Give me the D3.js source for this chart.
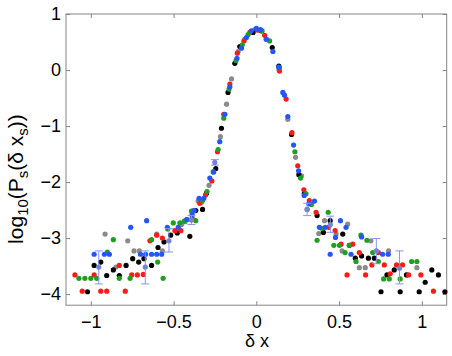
<!DOCTYPE html>
<html>
<head>
<meta charset="utf-8">
<script src="https://cdn.jsdelivr.net/npm/d3@7"></script>
<style>
  body { margin: 0; background: #fff; }
  text { font-family: "Liberation Sans", Arial, Helvetica, sans-serif; }
</style>
</head>
<body>
<div id="chart"></div>
<script>

// ---- data: [delta x, log10 P] ----
var blackPts = [
  [-1.02,-3.96],[-0.98,-3.49],[-0.94,-3.43],[-0.904,-3.67],[-0.864,-3.57],[-0.828,-3.67],
  [-0.787,-3.49],[-0.747,-3.37],[-0.711,-3.43],[-0.679,-3.37],[-0.633,-3.49],[-0.594,-3.17],
  [-0.558,-3.07],[-0.518,-2.95],[-0.478,-2.91],[-0.402,-2.97],[-0.366,-2.51],[-0.325,-2.49],
  [-0.301,-2.2],[-0.245,-1.76],[-0.211,-1.04],[-0.171,-0.40],[-0.13,0.12],[-0.10,0.42],
  [-0.02,0.67],[0.03,0.70],[0.096,0.40],[0.136,0.07],[0.213,-1.15],[0.257,-1.87],
  [0.29,-2.20],[0.367,-2.60],[0.405,-2.90],[0.446,-2.69],[0.522,-2.93],[0.562,-3.13],
  [0.598,-3.36],[0.636,-3.32],[0.677,-3.36],[0.713,-3.36],[0.753,-3.96],[0.789,-3.66],
  [0.833,-3.57],[0.869,-3.96],[0.907,-3.66],[0.984,-3.96],[1.02,-3.79],[1.06,-3.57],
  [1.10,-3.66],[1.139,-3.96]
];
var redPts = [
  [-1.096,-3.66],[-1.052,-3.95],[-0.98,-3.66],[-0.94,-3.95],[-0.904,-3.95],[-0.828,-3.49],
  [-0.792,-3.95],[-0.753,-3.66],[-0.719,-3.66],[-0.683,-3.65],[-0.643,-3.05],[-0.602,-2.95],
  [-0.568,-3.0],[-0.492,-2.87],[-0.456,-2.87],[-0.42,-2.67],[-0.388,-2.64],[-0.384,-2.52],
  [-0.342,-2.38],[-0.307,-2.23],[-0.269,-1.98],[-0.235,-1.46],[-0.197,-0.79],[-0.16,-0.25],
  [-0.115,0.30],[-0.075,0.52],[-0.04,0.67],[0.01,0.71],[0.05,0.62],[0.14,-0.02],
  [0.18,-0.52],[0.215,-1.12],[0.25,-1.71],[0.287,-2.14],[0.32,-2.33],[0.361,-2.54],
  [0.437,-2.81],[0.476,-2.87],[0.512,-3.11],[0.548,-3.66],[0.582,-3.11],[0.622,-3.26],
  [0.66,-3.66],[0.698,-3.48],[0.737,-3.26],[0.773,-3.48],[0.809,-3.64],[0.847,-3.48],
  [0.883,-3.48],[0.92,-3.66],[0.994,-3.66],[1.07,-3.95]
];
var greenPts = [
  [-1.072,-3.72],[-1.036,-3.72],[-1.0,-3.72],[-0.964,-3.72],[-0.9,-3.25],[-0.864,-3.03],
  [-0.828,-3.72],[-0.763,-3.72],[-0.633,-3.03],[-0.596,-3.43],[-0.563,-3.72],[-0.535,-2.84],
  [-0.502,-2.73],[-0.462,-2.73],[-0.436,-2.70],[-0.392,-2.52],[-0.366,-2.69],[-0.325,-2.33],
  [-0.298,-2.17],[-0.261,-1.82],[-0.231,-1.42],[-0.197,-0.86],[-0.165,-0.34],[-0.123,0.17],
  [-0.085,0.45],[-0.05,0.63],[0.035,0.70],[0.08,0.52],[0.14,0.04],[0.233,-1.46],
  [0.267,-1.93],[0.30,-2.21],[0.333,-2.40],[0.367,-3.04],[0.397,-2.83],[0.434,-2.54],
  [0.468,-3.13],[0.502,-3.13],[0.536,-3.26],[0.562,-3.13],[0.602,-3.42],[0.632,-2.95],
  [0.668,-3.04],[0.703,-3.26],[0.737,-3.42],[0.769,-3.73],[0.803,-3.73],[0.869,-3.73],
  [0.938,-3.42],[0.97,-3.42]
];
var grayPts = [
  [-0.914,-2.93],[-0.848,-3.52],[-0.777,-3.05],[-0.739,-3.23],[-0.707,-3.23],[-0.602,-2.93],
  [-0.568,-3.23],[-0.452,-2.76],[-0.43,-2.71],[-0.352,-2.34],[-0.331,-2.36],[-0.286,-2.06],
  [-0.217,-1.19],[-0.18,-0.61],[-0.15,-0.16],[-0.11,0.33],[-0.07,0.55],[-0.035,0.68],
  [-0.01,0.72],[0.06,0.55],[0.137,0.0],[0.19,-0.88],[0.237,-1.56],[0.273,-1.89],
  [0.307,-2.49],[0.377,-2.92],[0.412,-2.69],[0.482,-2.93],[0.518,-3.23],[0.552,-2.75],
  [0.622,-3.53],[0.658,-3.53],[0.692,-3.05],[0.799,-3.23],[0.97,-3.53]
];
var bluePts = [
  [-0.98,-3.29],[-0.918,-3.29],[-0.888,-3.29],[-0.759,-2.81],[-0.70,-3.29],[-0.669,-3.29],
  [-0.663,-2.69],[-0.633,-3.29],[-0.602,-3.29],[-0.572,-3.29],[-0.538,-2.81],[-0.472,-2.81],
  [-0.42,-2.67],[-0.388,-2.58],[-0.376,-2.51],[-0.346,-2.29],[-0.317,-2.29],[-0.281,-1.93],
  [-0.258,-1.82],[-0.221,-1.28],[-0.19,-0.79],[-0.16,-0.30],[-0.117,0.21],[-0.09,0.39],
  [-0.06,0.58],[-0.03,0.70],[0,0.745],[0.025,0.72],[0.06,0.55],[0.10,0.33],[0.135,0.05],
  [0.16,-0.40],[0.17,-0.45],[0.19,-0.83],[0.225,-1.34],[0.255,-1.80],[0.289,-2.24],
  [0.317,-2.39],[0.351,-2.34],[0.381,-2.81],[0.416,-2.81],[0.446,-3.29],[0.478,-2.99],
  [0.508,-2.69],[0.542,-2.81],[0.572,-3.29],[0.636,-2.98],[0.763,-3.29],[0.797,-3.29]
];

// averaged points with error bars
var errX  = [-0.952, -0.671, -0.528, -0.392, -0.251, 0.307, 0.447, 0.725, 0.865];
var errY  = [-3.52, -3.52, -3.05, -2.68, -1.65, -2.49, -2.76, -3.23, -3.54];
var errLo = [-3.82, -3.82, -3.25, -2.76, -1.70, -2.60, -2.90, -3.46, -3.82];
var errHi = [-3.23, -3.23, -2.83, -2.60, -1.60, -2.38, -2.61, -3.01, -3.23];

var xTicks = [-1, -0.5, 0, 0.5, 1];
var yTicks = [-4, -3, -2, -1, 0, 1];

var series = [
  { pts: grayPts,  color: '#8a8a8a' },
  { pts: blackPts, color: '#000000' },
  { pts: redPts,   color: '#ff1a1a' },
  { pts: greenPts, color: '#1f9f1f' },
  { pts: bluePts,  color: '#2455ff' }
];

var W = 452, H = 356;
var box = { x0: 66, x1: 446.7, y0: 14, y1: 305.2 };

var svg = d3.select('#chart').append('svg')
  .attr('width', W)
  .attr('height', H);

var x = d3.scaleLinear().domain([-1.15, 1.15]).range([box.x0, box.x1]);
var y = d3.scaleLinear().domain([-4.2, 1]).range([box.y1, box.y0]);
var fmt = d3.format('');
var axisColor = '#858585';

// axes (ticks pointing inward, matlab style box)
var gx = svg.append('g').attr('transform', `translate(0,${box.y1})`)
  .call(d3.axisBottom(x).tickValues(xTicks).tickSize(-4).tickPadding(10).tickFormat(fmt));
var gxt = svg.append('g').attr('transform', `translate(0,${box.y0})`)
  .call(d3.axisTop(x).tickValues(xTicks).tickSize(-4).tickFormat(''));
var gy = svg.append('g').attr('transform', `translate(${box.x0},0)`)
  .call(d3.axisLeft(y).tickValues(yTicks).tickSize(-4).tickPadding(5).tickFormat(fmt));
var gyr = svg.append('g').attr('transform', `translate(${box.x1},0)`)
  .call(d3.axisRight(y).tickValues(yTicks).tickSize(-4).tickFormat(''));

[gx, gxt, gy, gyr].forEach(function (g) {
  g.select('.domain').remove();
  g.selectAll('line').attr('stroke', axisColor);
  g.selectAll('text').attr('fill', '#000').style('font-size', '18px')
    .style('font-family', '"Liberation Sans", Arial, sans-serif');
});

svg.append('rect')
  .attr('x', box.x0).attr('y', box.y0)
  .attr('width', box.x1 - box.x0).attr('height', box.y1 - box.y0)
  .attr('fill', 'none').attr('stroke', axisColor).attr('stroke-width', 1);

// dots
var plot = svg.append('g');
series.forEach(function (s) {
  plot.append('g').selectAll('circle')
    .data(s.pts)
    .enter().append('circle')
    .attr('cx', d => x(d[0]))
    .attr('cy', d => y(d[1]))
    .attr('r', 2.6)
    .attr('fill', s.color);
});

// error bars
var eb = plot.append('g').selectAll('g')
  .data(errX.map((v, i) => ({ x: v, y: errY[i], lo: errLo[i], hi: errHi[i] })))
  .enter().append('g')
  .attr('stroke', '#8797f2').attr('stroke-width', 1);

eb.append('line')
  .attr('x1', d => x(d.x)).attr('x2', d => x(d.x))
  .attr('y1', d => y(d.lo)).attr('y2', d => y(d.hi));
eb.append('line')
  .attr('x1', d => x(d.x) - 4).attr('x2', d => x(d.x) + 4)
  .attr('y1', d => y(d.lo)).attr('y2', d => y(d.lo));
eb.append('line')
  .attr('x1', d => x(d.x) - 4).attr('x2', d => x(d.x) + 4)
  .attr('y1', d => y(d.hi)).attr('y2', d => y(d.hi));
eb.append('circle')
  .attr('cx', d => x(d.x)).attr('cy', d => y(d.y))
  .attr('r', 2.6).attr('stroke', 'none').attr('fill', '#7383d6');

// axis labels
svg.append('text')
  .attr('x', 257).attr('y', 347)
  .attr('text-anchor', 'middle')
  .style('font-size', '18px')
  .text('δ x');

var yl = svg.append('text')
  .attr('transform', 'translate(23,179) rotate(-90)')
  .attr('text-anchor', 'middle')
  .style('font-size', '21px');
yl.append('tspan').text('log');
yl.append('tspan').attr('dy', 5).style('font-size', '15px').text('10');
yl.append('tspan').attr('dy', -5).text('(P');
yl.append('tspan').attr('dy', 5).style('font-size', '15px').text('s');
yl.append('tspan').attr('dy', -5).text('(δ x');
yl.append('tspan').attr('dy', 5).style('font-size', '15px').text('s');
yl.append('tspan').attr('dy', -5).text('))');

</script>
</body>
</html>
